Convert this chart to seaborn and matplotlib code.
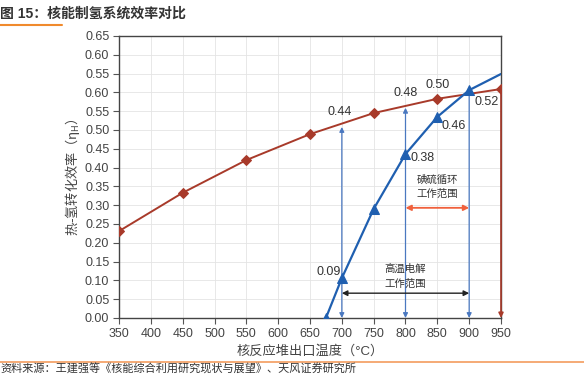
import matplotlib
matplotlib.use("Agg")
import matplotlib.pyplot as plt
import numpy as np
import pandas as pd
import seaborn as sns

# --- data (in axis units) ---
red_temp = [350, 450, 550, 650, 750, 850, 950]
red_eff = [0.231, 0.333, 0.420, 0.489, 0.545, 0.583, 0.609]

blue_temp = [675, 700, 750, 800, 850, 900, 950]
blue_eff = [0.0, 0.106, 0.290, 0.436, 0.535, 0.606, 0.649]

ytick_vals = [round(0.05 * i, 2) for i in range(16)]
ytick_labels = ["0.00", "0.05", "0.10", "0.15", "0.20", "0.25", "0.30", "0.35",
                "0.40", "0.45", "0.50", "0.55", "0.60", "0.55", "0.60", "0.65"]
xtick_vals = list(range(350, 951, 50))

# vertical double arrows (temperature, top of arrow)
vline_temp = [700, 800, 900]
vline_top = [0.508, 0.559, 0.612]

# value labels: text, x, y
label_text = ["0.44", "0.48", "0.50", "0.52", "0.46", "0.38", "0.09"]
label_x = [697, 800, 850, 928, 876, 827, 680]
label_y = [0.548, 0.598, 0.620, 0.575, 0.511, 0.426, 0.122]

# working ranges
iodine_range = (800, 900, 0.293)
electro_range = (700, 900, 0.066)

RED = "#a83a2a"
BLUE = "#1f5fb0"
BLUE_LINE = "#4a78c0"
ORANGE = "#f0603c"
TXT = "#333333"

sns.set_theme(style="whitegrid")
plt.rcParams["font.family"] = ["Liberation Sans", "Noto Sans CJK SC", "DejaVu Sans"]
plt.rcParams["axes.unicode_minus"] = False
plt.rcParams["mathtext.fontset"] = "custom"
plt.rcParams["mathtext.rm"] = "Noto Sans CJK SC"
plt.rcParams["mathtext.it"] = "Noto Sans CJK SC"
plt.rcParams["mathtext.fallback"] = "cm"

fig = plt.figure(figsize=(5.84, 3.78), dpi=100)
ax = fig.add_axes([119 / 584, 1 - 318 / 378, 382 / 584, 282 / 378])

df_red = pd.DataFrame({"temp": red_temp, "eff": red_eff})
df_blue = pd.DataFrame({"temp": blue_temp, "eff": blue_eff})

sns.lineplot(data=df_red, x="temp", y="eff", ax=ax, color=RED, lw=1.4,
             marker="D", markersize=5.5, markeredgecolor=RED, zorder=4)
sns.lineplot(data=df_blue, x="temp", y="eff", ax=ax, color=BLUE, lw=1.6,
             marker="^", markersize=6.5, markeredgecolor=BLUE,
             markevery=list(range(len(blue_temp) - 1)), zorder=4)

# vertical double arrows
for t, top in zip(vline_temp, vline_top):
    ax.annotate("", xy=(t, top), xytext=(t, 0.0),
                arrowprops=dict(arrowstyle="<|-|>", color=BLUE_LINE, lw=0.9,
                                mutation_scale=7, shrinkA=0, shrinkB=0), zorder=3)
# red line at 950
ax.annotate("", xy=(red_temp[-1], 0.0), xytext=(red_temp[-1], red_eff[-1]),
            arrowprops=dict(arrowstyle="-|>", color=RED, lw=1.2,
                            mutation_scale=7, shrinkA=0, shrinkB=0),
            annotation_clip=False, zorder=5)

# working-range arrows
ax.annotate("", xy=(iodine_range[0], iodine_range[2]), xytext=(iodine_range[1], iodine_range[2]),
            arrowprops=dict(arrowstyle="<|-|>", color=ORANGE, lw=1.3,
                            mutation_scale=8, shrinkA=0, shrinkB=0))
ax.annotate("", xy=(electro_range[0], electro_range[2]), xytext=(electro_range[1], electro_range[2]),
            arrowprops=dict(arrowstyle="<|-|>", color="#222222", lw=1.0,
                            mutation_scale=8, shrinkA=0, shrinkB=0))
ax.text(850, 0.348, "碘硫循环\n工作范围", ha="center", va="center", fontsize=7.5,
        color=TXT, linespacing=1.5)
ax.text(800, 0.111, "高温电解\n工作范围", ha="center", va="center", fontsize=7.5,
        color=TXT, linespacing=1.5)

for s, x, y in zip(label_text, label_x, label_y):
    ax.text(x, y, s, ha="center", va="center", fontsize=9, color=TXT)

ax.set_xlim(350, 950)
ax.set_ylim(0, 0.75)
ax.set_xticks(xtick_vals)
ax.set_yticks(ytick_vals)
ax.set_yticklabels(ytick_labels)
ax.tick_params(axis="both", labelsize=9, colors="#555555", labelcolor="#444444",
               length=4, width=0.8, direction="out", left=True, bottom=True, pad=3)
ax.grid(True, color="#e4e4e4", lw=0.6)
for side in ["left", "bottom", "top", "right"]:
    ax.spines[side].set_color("#444444")
    ax.spines[side].set_linewidth(1.0)
ax.set_xlabel("核反应堆出口温度（°C）", fontsize=9.5, color="#444444", labelpad=4)
ax.set_ylabel(r"$\text{热-氢转化效率（}\eta_{\mathrm{H}}\text{）}$", fontsize=9.5,
              color="#444444", labelpad=2)

# title, underline, footer
fig.text(0.0, 0.963, "图 15：核能制氢系统效率对比", fontsize=10, color=TXT,
         ha="left", va="center", fontweight="bold")
fig.add_artist(plt.Line2D([0, 62 / 584], [1 - 25 / 378] * 2, color="#f08a2c", lw=1.5))
fig.add_artist(plt.Line2D([0, 1], [1 - 362 / 378] * 2, color="#f4a46a", lw=1.3))
fig.text(0.0, 1 - 369 / 378, "资料来源：王建强等《核能综合利用研究现状与展望》、天风证券研究所",
         fontsize=8, color=TXT, ha="left", va="center")

fig.savefig("out.png", dpi=100)
